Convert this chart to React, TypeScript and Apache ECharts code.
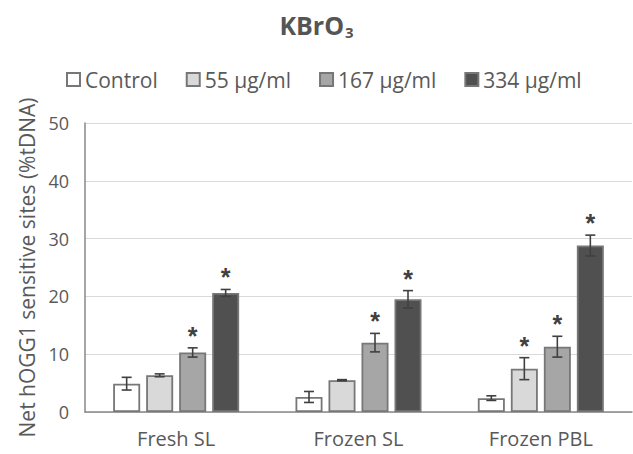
import React, { useEffect, useRef } from "react";
import * as echarts from "echarts";

const categories = ["Fresh SL", "Frozen SL", "Frozen PBL"];
const seriesNames = ["Control", "55 µg/ml", "167 µg/ml", "334 µg/ml"];

const controlMean = [4.9, 2.6, 2.4];
const controlErr = [1.1, 0.95, 0.4];
const controlStar = [0, 0, 0];

const dose55Mean = [6.35, 5.5, 7.5];
const dose55Err = [0.25, 0.1, 1.9];
const dose55Star = [0, 0, 1];

const dose167Mean = [10.3, 12.0, 11.3];
const dose167Err = [0.8, 1.6, 1.8];
const dose167Star = [1, 1, 1];

const dose334Mean = [20.6, 19.5, 28.8];
const dose334Err = [0.6, 1.5, 1.8];
const dose334Star = [1, 1, 1];

const yTicks = { min: 0, max: 50, interval: 10 };

const means = [controlMean, dose55Mean, dose167Mean, dose334Mean];
const errs = [controlErr, dose55Err, dose167Err, dose334Err];
const stars = [controlStar, dose55Star, dose167Star, dose334Star];

const fills = ["#ffffff", "#d9d9d9", "#a6a6a6", "#505050"];
const FONT = "'Open Sans', sans-serif";
const TEXT = "#595959";
const BAR_W = 27;
const BAR_GAP_PX = 6;

export default function App() {
  const ref = useRef<HTMLDivElement>(null);

  useEffect(() => {
    if (!ref.current) return;
    const chart = echarts.init(ref.current, undefined, { renderer: "svg" });

    const barSeries = seriesNames.map((name, i) => ({
      name,
      type: "bar",
      data: means[i],
      barWidth: BAR_W,
      barGap: (BAR_GAP_PX / BAR_W) * 100 + "%",
      itemStyle: { color: fills[i], borderColor: "#777777", borderWidth: 1.8 },
      z: 2,
    }));

    const errSeries = seriesNames.map((name, i) => ({
      type: "custom",
      name: name + " err",
      z: 5,
      silent: true,
      data: categories.map((_, c) => [c, means[i][c], errs[i][c], stars[i][c]]),
      renderItem: (params: any, api: any) => {
        const cat = api.value(0);
        const mean = api.value(1);
        const err = api.value(2);
        const star = api.value(3);
        const offset = (i - 1.5) * (BAR_W + BAR_GAP_PX);
        const top = api.coord([cat, mean + err]);
        const bot = api.coord([cat, mean - err]);
        const x = top[0] + offset;
        const ls = { stroke: "#404040", lineWidth: 1.6 };
        const children: any[] = [
          { type: "line", shape: { x1: x, y1: top[1], x2: x, y2: bot[1] }, style: ls },
          { type: "line", shape: { x1: x - 5, y1: top[1], x2: x + 5, y2: top[1] }, style: ls },
          { type: "line", shape: { x1: x - 5, y1: bot[1], x2: x + 5, y2: bot[1] }, style: ls },
        ];
        if (star) {
          children.push({
            type: "text",
            style: {
              text: "*",
              x,
              y: top[1] - 12,
              align: "center",
              verticalAlign: "middle",
              fontSize: 25,
              fontWeight: "bold",
              fontFamily: "'Liberation Sans', sans-serif",
              fill: "#404040",
            },
          });
        }
        return { type: "group", children };
      },
    }));

    chart.setOption({
      animation: false,
      title: {
        text: "{a|KBrO}{b|3}",
        left: "center",
        top: 6,
        textStyle: {
          rich: {
            a: { fontSize: 25, fontWeight: "bold", fontFamily: FONT, color: "#555555" },
            b: { fontSize: 15, fontWeight: "bold", fontFamily: FONT, color: "#555555", padding: [13, 0, 0, 1] },
          },
        },
      },
      legend: {
        data: seriesNames,
        left: 61,
        top: 64,
        itemWidth: 13,
        itemHeight: 13,
        itemGap: 28,
        icon: "rect",
        textStyle: { fontSize: 21, fontFamily: FONT, color: TEXT },
      },
      grid: { left: 85, right: 1, top: 123, bottom: 42, containLabel: false },
      xAxis: {
        type: "category",
        data: categories,
        axisLine: { lineStyle: { color: "#888888", width: 1.5 } },
        axisTick: { show: false },
        axisLabel: { fontSize: 20, fontFamily: FONT, color: TEXT, margin: 16 },
      },
      yAxis: {
        type: "value",
        min: yTicks.min,
        max: yTicks.max,
        interval: yTicks.interval,
        name: "Net hOGG1 sensitive sites (%tDNA)",
        nameLocation: "middle",
        nameRotate: 90,
        nameGap: 46,
        nameTextStyle: { fontSize: 21, fontFamily: FONT, color: TEXT },
        axisLine: { show: true, lineStyle: { color: "#888888", width: 1.5 } },
        axisTick: { show: false },
        splitLine: { lineStyle: { color: "#d9d9d9", width: 1 } },
        axisLabel: { fontSize: 18, fontFamily: FONT, color: TEXT, margin: 16 },
      },
      series: [...barSeries, ...errSeries],
    });

    return () => chart.dispose();
  }, []);

  return (
    <div
      ref={ref}
      style={{ position: "fixed", left: 0, top: 0, width: 633, height: 454, background: "#fff" }}
    />
  );
}
